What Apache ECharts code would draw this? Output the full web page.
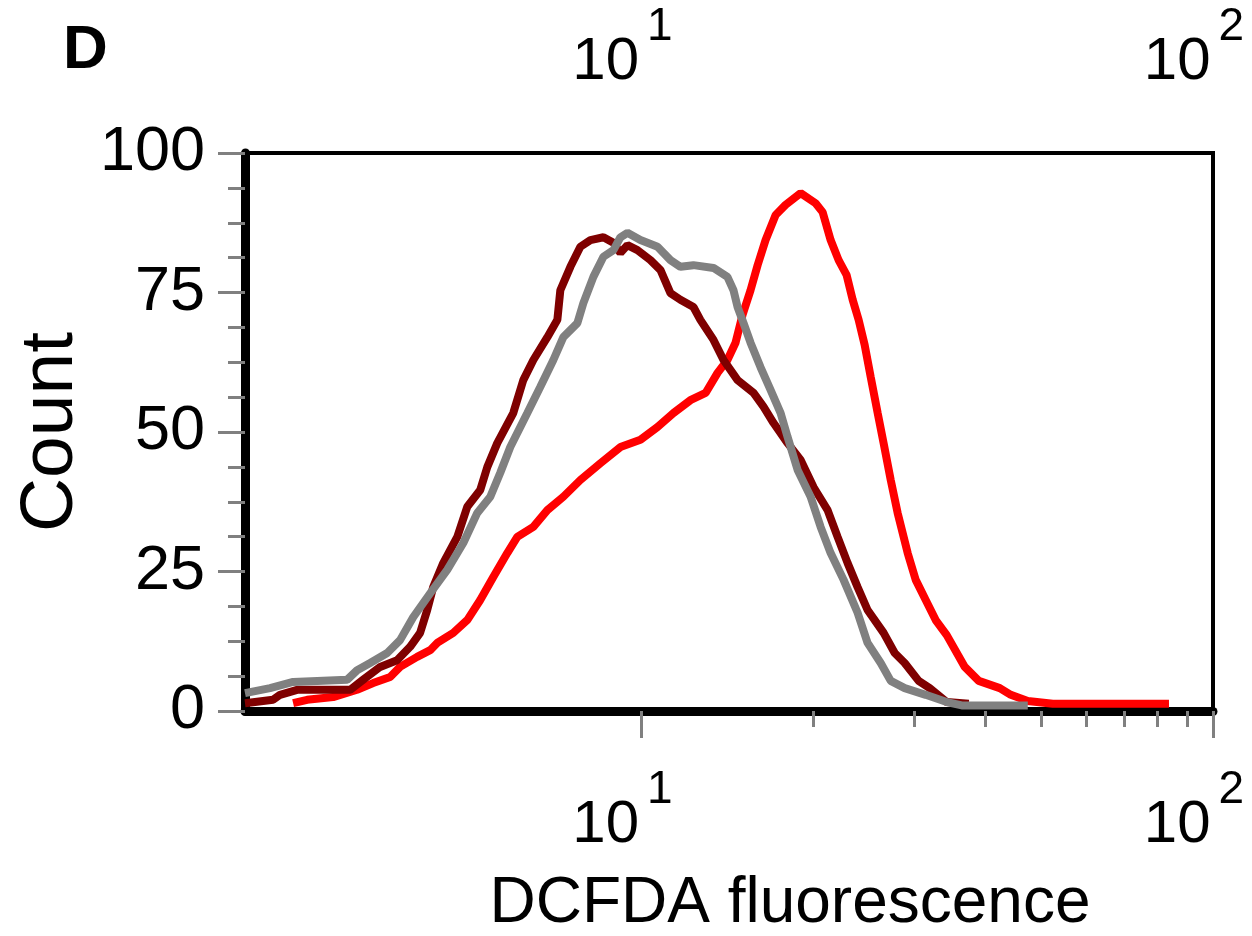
<!DOCTYPE html>
<html>
<head>
<meta charset="utf-8">
<script src="https://cdn.jsdelivr.net/npm/echarts@6/dist/echarts.min.js"></script>
<style>
html,body{margin:0;padding:0;background:#fff;}
#chart{width:1252px;height:936px;}
</style>
</head>
<body>
<div id="chart"></div>
<script>
// ---- data (x = DCFDA fluorescence, y = count) ----
const panelLabel = 'D';
const xAxisTitle = 'DCFDA fluorescence';
const yAxisTitle = 'Count';
const xMin = 2.025, xMax = 100;
const xMajorTicks = [10, 100];
const xMinorTicks = [20, 30, 40, 50, 60, 70, 80, 90];
const yMin = 0, yMax = 100, yInterval = 25;

const redData = [
  [2.458,1.4],[2.601,2.0],[2.888,2.5],[3.181,3.8],[3.393,5.0],[3.634,6.1],[3.782,7.9],[4.051,9.7],
  [4.270,10.9],[4.392,12.2],[4.686,14.0],[4.958,16.3],[5.224,19.9],[5.506,24.0],[5.825,28.3],
  [6.065,31.2],[6.470,33.0],[6.846,36.0],[7.301,38.4],[7.819,41.4],[8.477,44.4],[9.188,47.3],
  [9.96,48.6],[10.67,50.9],[11.38,53.4],[12.18,55.7],[12.95,57.0],[13.59,60.6],[14.14,62.9],
  [14.61,66.0],[15.03,71.0],[15.52,75.4],[15.97,79.9],[16.49,84.4],[17.17,88.9],[17.87,90.7],
  [18.99,92.8],[20.17,91.0],[20.75,89.4],[21.43,84.4],[22.13,80.8],[22.86,78.1],[23.42,73.7],
  [23.99,70.1],[24.58,65.6],[25.18,59.9],[25.90,53.4],[26.53,48.0],[27.30,41.4],[28.07,35.5],
  [29.23,28.3],[30.19,23.5],[31.43,19.9],[32.72,16.3],[34.21,13.6],[36.79,7.9],[38.92,5.4],
  [42.36,4.1],[44.28,2.9],[47.42,1.8],[52.45,1.3],[83.75,1.3]
];
const maroonData = [
  [2.025,1.4],[2.267,2.0],[2.332,2.9],[2.498,3.8],[3.093,3.8],[3.259,5.6],[3.490,7.9],[3.737,9.1],
  [3.938,11.5],[4.100,14.0],[4.219,18.1],[4.322,22.2],[4.500,26.5],[4.762,31.2],[4.958,36.6],
  [5.224,39.6],[5.374,43.7],[5.595,48.0],[5.967,53.4],[6.213,59.3],[6.470,62.9],[6.846,67.0],
  [7.127,70.1],[7.213,75.4],[7.511,79.6],[7.819,83.2],[8.142,84.4],[8.580,84.9],[8.933,83.9],
  [9.188,82.1],[9.452,83.5],[9.840,82.6],[10.37,80.8],[10.80,79.0],[11.24,74.9],[11.70,73.7],
  [12.33,72.4],[12.68,70.1],[13.37,66.5],[13.92,62.9],[14.73,59.3],[15.71,57.0],[16.36,54.5],
  [17.03,51.6],[18.02,48.0],[18.99,45.0],[20.01,40.1],[21.17,36.0],[22.04,31.2],[22.95,26.5],
  [23.89,22.2],[24.87,18.1],[26.53,14.0],[27.74,10.4],[28.88,8.6],[30.55,5.4],[31.94,4.1],
  [34.21,1.6],[37.39,1.3]
];
const grayData = [
  [2.025,3.2],[2.240,4.1],[2.458,5.2],[3.056,5.6],[3.181,7.3],[3.352,8.6],[3.591,10.4],[3.782,12.7],
  [3.987,16.8],[4.270,21.1],[4.573,25.3],[4.879,30.1],[5.162,35.5],[5.440,38.4],[5.663,42.7],
  [5.896,47.3],[6.315,53.4],[6.655,58.1],[7.013,62.9],[7.301,67.0],[7.725,69.5],[7.914,73.1],
  [8.240,77.8],[8.580,81.4],[8.933,82.6],[9.188,84.9],[9.452,85.7],[9.96,84.4],[10.67,83.2],
  [11.24,80.8],[11.70,79.6],[12.33,79.9],[13.37,79.4],[14.14,77.8],[14.49,75.4],[14.73,72.4],
  [15.09,69.5],[15.52,66.0],[16.16,61.6],[16.83,57.5],[17.52,53.4],[18.02,49.1],[18.76,43.2],
  [19.77,38.4],[20.58,33.0],[21.43,28.3],[22.58,23.5],[23.89,17.6],[24.87,12.2],[26.22,8.6],
  [27.30,5.4],[28.88,4.1],[31.43,2.9],[34.21,1.6],[36.35,1.0],[47.42,1.0]
];

const FONT = 'Liberation Sans, Arial, sans-serif';
const chart = echarts.init(document.getElementById('chart'), null, {renderer: 'canvas'});

function powLabel(v) {
  return '{b|10}{s|' + Math.round(Math.log10(v)) + '}';
}
const powRich = {
  b: {fontSize: 60, fontFamily: FONT, color: '#000', verticalAlign: 'bottom'},
  s: {fontSize: 46, fontFamily: FONT, color: '#000', verticalAlign: 'bottom', padding: [0, 0, 42, 8]}
};

const option = {
  animation: false,
  backgroundColor: '#fff',
  grid: {left: 245, right: 39, top: 153, bottom: 225, show: true, borderColor: '#000', borderWidth: 4,
         backgroundColor: 'transparent', containLabel: false, outerBoundsMode: 'none'},
  graphic: [{
    type: 'text', left: 63, top: 20,
    style: {text: panelLabel, font: 'bold 62px ' + FONT, fill: '#000'}
  }],
  xAxis: [
    {
      type: 'log', min: xMin, max: xMax, position: 'bottom',
      axisLine: {show: true, lineStyle: {color: '#000', width: 9}},
      axisTick: {show: true, customValues: xMajorTicks, length: 27, lineStyle: {color: '#808080', width: 3}},
      axisLabel: {show: true, customValues: xMajorTicks, margin: 56, formatter: powLabel, rich: powRich, padding: [0, 38, 0, 0]},
      splitLine: {show: false},
      name: xAxisTitle, nameLocation: 'middle', nameGap: 161,
      nameTextStyle: {fontSize: 64, fontFamily: FONT, color: '#000', padding: [0, 0, 0, 122]}
    },
    {
      type: 'log', min: xMin, max: xMax, position: 'bottom',
      axisLine: {show: false},
      axisTick: {show: true, customValues: xMinorTicks, length: 16, lineStyle: {color: '#808080', width: 3}},
      axisLabel: {show: false},
      splitLine: {show: false}
    },
    {
      type: 'log', min: xMin, max: xMax, position: 'top',
      axisLine: {show: false},
      axisTick: {show: false},
      axisLabel: {show: true, customValues: xMajorTicks, margin: 61, formatter: powLabel, rich: powRich, padding: [0, 38, 0, 0]},
      splitLine: {show: false}
    }
  ],
  yAxis: {
    type: 'value', min: yMin, max: yMax, interval: yInterval,
    axisLine: {show: true, lineStyle: {color: '#000', width: 9}},
    axisTick: {show: true, length: 27, lineStyle: {color: '#808080', width: 3}},
    minorTick: {show: true, splitNumber: 4, length: 17, lineStyle: {color: '#808080', width: 3}},
    axisLabel: {fontSize: 63, fontFamily: FONT, color: '#000', margin: 40},
    splitLine: {show: false},
    name: yAxisTitle, nameLocation: 'middle', nameGap: 156, nameRotate: 90,
    nameTextStyle: {fontSize: 75, fontFamily: FONT, color: '#000'}
  },
  series: [
    {type: 'line', name: 'red', data: redData, xAxisIndex: 0, symbol: 'none', smooth: false,
     lineStyle: {color: '#ff0000', width: 8}},
    {type: 'line', name: 'maroon', data: maroonData, xAxisIndex: 0, symbol: 'none', smooth: false,
     lineStyle: {color: '#7f0000', width: 8}},
    {type: 'line', name: 'gray', data: grayData, xAxisIndex: 0, symbol: 'none', smooth: false,
     lineStyle: {color: '#808080', width: 8}}
  ]
};
chart.setOption(option);
</script>
</body>
</html>
